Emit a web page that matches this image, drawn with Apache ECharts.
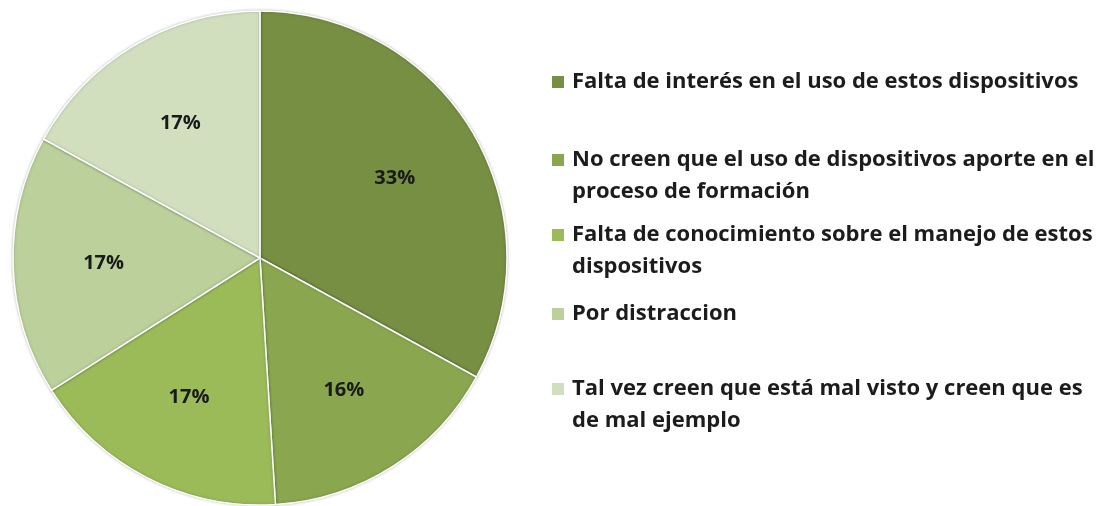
<!DOCTYPE html>
<html>
<head>
<meta charset="utf-8">
<script src="https://cdn.jsdelivr.net/npm/echarts@6/dist/echarts.min.js"></script>
<style>
  html, body { margin: 0; padding: 0; background: #fff; }
  #chart1 { width: 1102px; height: 506px; }
</style>
</head>
<body>
<div id="chart1"></div>
<script>
const categorias = [
  'Falta de interés en el uso de estos dispositivos',
  'No creen que el uso de dispositivos aporte en el\nproceso de formación',
  'Falta de conocimiento sobre el manejo de estos\ndispositivos',
  'Por distraccion',
  'Tal vez creen que está mal visto y creen que es\nde mal ejemplo'
]
const valores = [33, 16, 17, 17, 17]
const colores = ['#768f42', '#8aa74f', '#9bbb59', '#bbd09a', '#d2dfbf']

// centro vertical de la primera linea de cada leyenda
const lineasLeyenda = [77, 155, 230, 309, 384]

const LH = 32

const getOptionChart1 = () => {
  const data = categorias.map((name, i) => ({
    name,
    value: valores[i],
    itemStyle: { color: colores[i] }
  }))

  // una leyenda por item para poder alinear el icono con la primera linea
  const legends = categorias.map((name, i) => {
    const multi = name.includes('\n')
    return {
      orient: 'vertical',
      left: 545,
      top: multi ? lineasLeyenda[i] - 1.5 * LH : lineasLeyenda[i] - LH / 2,
      icon: 'rect',
      itemWidth: 14,
      itemHeight: 14,
      selectedMode: false,
      data: [name],
      formatter: (n) => (n.includes('\n') ? ' \n' + n : n),
      textStyle: {
        fontFamily: 'Open Sans',
        fontSize: 22,
        fontWeight: 'bold',
        color: '#1c1c1c',
        lineHeight: LH,
        padding: [0, 0, 0, 2]
      }
    }
  })

  return {
    animation: false,
    legend: legends,
    series: [
      {
        type: 'pie',
        center: [260, 258],
        radius: [0, 247],
        startAngle: 90,
        clockwise: true,
        label: { show: false },
        labelLine: { show: false },
        itemStyle: {
          borderColor: '#ffffff',
          borderWidth: 1.5,
          shadowBlur: 3,
          shadowColor: 'rgba(0,0,0,0.25)'
        },
        data
      },
      {
        // serie transparente solo para colocar las etiquetas
        type: 'pie',
        center: [260, 258],
        radius: [60, 247],
        startAngle: 90,
        clockwise: true,
        silent: true,
        z: 3,
        itemStyle: { color: 'transparent', borderWidth: 0 },
        label: {
          show: true,
          position: 'inside',
          formatter: '{c}%',
          fontFamily: 'Open Sans',
          fontSize: 20,
          fontWeight: 'bold',
          color: '#1a1a1a'
        },
        labelLine: { show: false },
        data: categorias.map((name, i) => ({ name, value: valores[i] }))
      }
    ]
  }
}

const chart1 = echarts.init(document.getElementById('chart1'))
chart1.setOption(getOptionChart1())
</script>
</body>
</html>
